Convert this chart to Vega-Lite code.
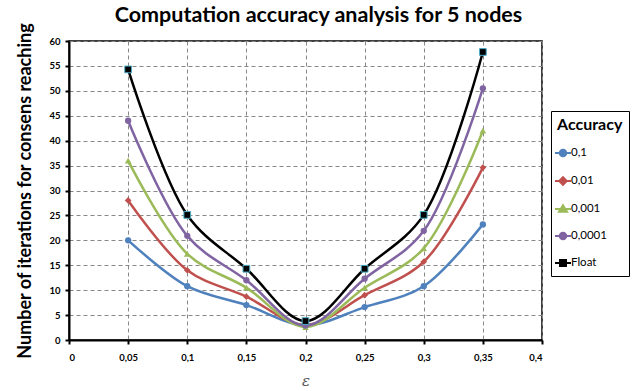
{
  "$schema": "https://vega.github.io/schema/vega-lite/v6.json",
  "width": 473,
  "height": 299,
  "autosize": {"type": "none"},
  "padding": {"left": 69, "top": 41, "right": 94, "bottom": 51},
  "background": "white",
  "title": {
    "text": "Computation accuracy analysis for 5 nodes",
    "font": "Lato",
    "fontSize": 21.5,
    "fontWeight": "bold",
    "color": "black",
    "anchor": "middle",
    "frame": "group",
    "dx": 13,
    "offset": -4
  },
  "data": {
    "values": [
      {"eps": 0.05, "acc": "0,1", "n": 20},
      {"eps": 0.1, "acc": "0,1", "n": 10.8},
      {"eps": 0.15, "acc": "0,1", "n": 7},
      {"eps": 0.2, "acc": "0,1", "n": 3},
      {"eps": 0.25, "acc": "0,1", "n": 6.6},
      {"eps": 0.3, "acc": "0,1", "n": 10.8},
      {"eps": 0.35, "acc": "0,1", "n": 23.2},
      {"eps": 0.05, "acc": "0,01", "n": 28},
      {"eps": 0.1, "acc": "0,01", "n": 14},
      {"eps": 0.15, "acc": "0,01", "n": 8.7},
      {"eps": 0.2, "acc": "0,01", "n": 3},
      {"eps": 0.25, "acc": "0,01", "n": 9},
      {"eps": 0.3, "acc": "0,01", "n": 15.7},
      {"eps": 0.35, "acc": "0,01", "n": 34.6},
      {"eps": 0.05, "acc": "0,001", "n": 36},
      {"eps": 0.1, "acc": "0,001", "n": 17.3},
      {"eps": 0.15, "acc": "0,001", "n": 10.5},
      {"eps": 0.2, "acc": "0,001", "n": 2.6},
      {"eps": 0.25, "acc": "0,001", "n": 10.5},
      {"eps": 0.3, "acc": "0,001", "n": 18.4},
      {"eps": 0.35, "acc": "0,001", "n": 42},
      {"eps": 0.05, "acc": "0,0001", "n": 44},
      {"eps": 0.1, "acc": "0,0001", "n": 20.9},
      {"eps": 0.15, "acc": "0,0001", "n": 12},
      {"eps": 0.2, "acc": "0,0001", "n": 2.9},
      {"eps": 0.25, "acc": "0,0001", "n": 12.3},
      {"eps": 0.3, "acc": "0,0001", "n": 21.9},
      {"eps": 0.35, "acc": "0,0001", "n": 50.5},
      {"eps": 0.05, "acc": "Float", "n": 54.3},
      {"eps": 0.1, "acc": "Float", "n": 25.1},
      {"eps": 0.15, "acc": "Float", "n": 14.3},
      {"eps": 0.2, "acc": "Float", "n": 3.8},
      {"eps": 0.25, "acc": "Float", "n": 14.3},
      {"eps": 0.3, "acc": "Float", "n": 25.1},
      {"eps": 0.35, "acc": "Float", "n": 57.8}
    ]
  },
  "encoding": {
    "x": {
      "field": "eps",
      "type": "quantitative",
      "scale": {"domain": [0, 0.4], "nice": false, "zero": false},
      "axis": {
        "values": [0, 0.05, 0.1, 0.15, 0.2, 0.25, 0.3, 0.35, 0.4],
        "labelExpr": "replace(format(datum.value, '.2~f'), '.', ',')",
        "title": "ε",
        "titleFont": "DejaVu Serif",
        "titleFontStyle": "italic",
        "titleFontWeight": "normal",
        "titleFontSize": 15,
        "titleColor": "#555",
        "titlePadding": 12,
        "labelFont": "Lato",
        "labelFontWeight": "bold",
        "labelFontSize": 9.5,
        "labelColor": "black",
        "labelPadding": 8,
        "domainColor": "black",
        "domainWidth": 2,
        "tickColor": "black",
        "tickWidth": 2,
        "tickSize": 4,
        "grid": true,
        "gridColor": "#888",
        "gridDash": [4, 3],
        "gridWidth": 1
      }
    },
    "y": {
      "field": "n",
      "type": "quantitative",
      "scale": {"domain": [0, 60], "nice": false},
      "axis": {
        "values": [0, 5, 10, 15, 20, 25, 30, 35, 40, 45, 50, 55, 60],
        "title": "Number of iterations for consens reaching",
        "titleFont": "Lato",
        "titleFontSize": 18,
        "titleFontWeight": "bold",
        "titleColor": "black",
        "titlePadding": 14,
        "labelFont": "Lato",
        "labelFontWeight": "bold",
        "labelFontSize": 9.5,
        "labelColor": "black",
        "labelPadding": 5,
        "domainColor": "black",
        "domainWidth": 2,
        "tickColor": "black",
        "tickWidth": 2,
        "tickSize": 4,
        "grid": true,
        "gridColor": "#888",
        "gridDash": [4, 3],
        "gridWidth": 1
      }
    },
    "color": {
      "field": "acc",
      "type": "nominal",
      "scale": {
        "domain": ["0,1", "0,01", "0,001", "0,0001", "Float"],
        "range": ["#4F81BD", "#C0504D", "#9BBB59", "#8064A2", "#000000"]
      },
      "legend": {
        "title": "Accuracy",
        "orient": "none",
        "legendX": 482,
        "legendY": 70,
        "strokeColor": "black",
        "fillColor": "white",
        "padding": 6,
        "titleFont": "Lato",
        "titleFontSize": 16,
        "titleFontWeight": "bold",
        "titleColor": "black",
        "titlePadding": 14,
        "labelFont": "Lato",
        "labelFontSize": 11.5,
        "labelColor": "black",
        "labelOffset": 2,
        "rowPadding": 12,
        "symbolSize": 100,
        "symbolStrokeWidth": 2,
        "encode": {
          "symbols": {
            "update": {
              "shape": {"signal": "datum.value === '0,1' || datum.value === '0,0001' ? 'M-1.6,0H1.6M-0.65,0A0.65,0.65,0,1,1,0.65,0A0.65,0.65,0,1,1,-0.65,0Z' : datum.value === '0,01' ? 'M-1.6,0H1.6M0,-0.75L0.75,0L0,0.75L-0.75,0Z' : datum.value === '0,001' ? 'M-1.6,0H1.6M0,-0.75L0.8,0.55L-0.8,0.55Z' : 'M-1.6,0H1.6M-0.6,-0.6H0.6V0.6H-0.6Z'"},
              "fill": {"signal": "scale('color', datum.value)"},
              "strokeWidth": {"value": 2}
            }
          }
        }
      }
    }
  },
  "layer": [
    {
      "mark": {"type": "line", "interpolate": "catmull-rom", "strokeWidth": 2.5}
    },
    {
      "transform": [{"filter": "datum.acc === '0,1'"}],
      "mark": {"type": "point", "shape": "circle", "filled": true, "opacity": 1, "size": 40},
      "encoding": {"color": {"field": "acc", "type": "nominal", "legend": null}}
    },
    {
      "transform": [{"filter": "datum.acc === '0,01'"}],
      "mark": {"type": "point", "shape": "diamond", "filled": true, "opacity": 1, "size": 45},
      "encoding": {"color": {"field": "acc", "type": "nominal", "legend": null}}
    },
    {
      "transform": [{"filter": "datum.acc === '0,001'"}],
      "mark": {"type": "point", "shape": "triangle-up", "filled": true, "opacity": 1, "size": 45},
      "encoding": {"color": {"field": "acc", "type": "nominal", "legend": null}}
    },
    {
      "transform": [{"filter": "datum.acc === '0,0001'"}],
      "mark": {"type": "point", "shape": "circle", "filled": true, "opacity": 1, "size": 40},
      "encoding": {"color": {"field": "acc", "type": "nominal", "legend": null}}
    },
    {
      "transform": [{"filter": "datum.acc === 'Float'"}],
      "mark": {"type": "point", "shape": "square", "filled": true, "opacity": 1, "size": 45, "stroke": "#4BACC6", "strokeWidth": 1},
      "encoding": {"color": {"field": "acc", "type": "nominal", "legend": null}}
    }
  ],
  "config": {
    "view": {"stroke": "black", "strokeWidth": 1.5}
  }
}
